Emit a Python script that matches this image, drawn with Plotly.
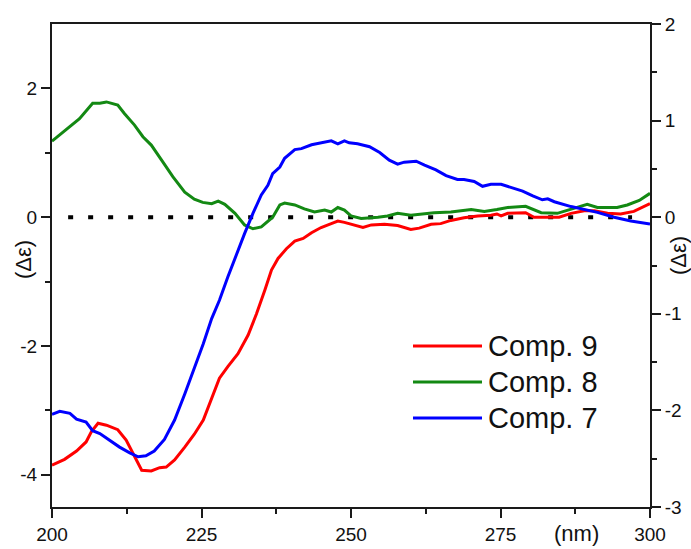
import plotly.graph_objects as go

# ---- data ----
wl_9 = [200.0, 202.1, 204.1, 205.7, 206.6, 207.7, 209.1, 211.0, 212.4, 213.8, 215.0, 216.6, 218.0, 219.1,
        220.5, 222.2, 223.8, 225.3, 226.7, 228.0, 229.4, 231.1, 232.8, 234.2, 235.6, 236.7, 237.8, 239.2,
        240.6, 242.0, 243.4, 245.0, 246.7, 247.8, 248.9, 249.7, 250.6, 252.0, 253.4, 255.6, 257.8, 260.0,
        261.4, 263.4, 265.0, 266.7, 268.9, 271.2, 273.4, 274.4, 275.1, 276.2, 279.2, 280.6, 283.4, 284.8,
        286.8, 289.0, 290.7, 292.9, 295.1, 297.3, 300.0]
de_9 = [-3.85, -3.76, -3.63, -3.49, -3.33, -3.20, -3.23, -3.30, -3.46, -3.72, -3.93, -3.94, -3.89, -3.88,
        -3.77, -3.57, -3.37, -3.15, -2.82, -2.50, -2.32, -2.12, -1.83, -1.50, -1.13, -0.82, -0.64, -0.49,
        -0.37, -0.33, -0.24, -0.16, -0.10, -0.06, -0.08, -0.10, -0.12, -0.16, -0.12, -0.11, -0.13, -0.19,
        -0.17, -0.11, -0.10, -0.05, -0.01, 0.02, 0.03, 0.05, 0.02, 0.06, 0.07, 0.00, 0.00, 0.00,
        0.06, 0.10, 0.10, 0.06, 0.05, 0.09, 0.21]

wl_8 = [200.0, 204.6, 206.8, 208.0, 209.1, 211.0, 212.1, 213.8, 215.2, 216.6, 218.3, 220.2, 222.2, 223.8,
        225.2, 226.7, 227.8, 228.9, 230.6, 232.2, 233.6, 235.0, 236.9, 238.1, 238.9, 240.6, 242.2, 243.9,
        245.6, 246.7, 247.8, 248.9, 250.0, 251.7, 254.5, 256.1, 257.8, 260.0, 263.9, 266.7, 270.1, 272.3,
        274.4, 276.2, 279.2, 281.8, 284.5, 286.8, 289.5, 291.2, 294.5, 296.2, 298.2, 300.0]
de_8 = [1.18, 1.53, 1.77, 1.77, 1.79, 1.74, 1.61, 1.43, 1.25, 1.12, 0.89, 0.63, 0.39, 0.28,
        0.23, 0.21, 0.25, 0.20, 0.06, -0.12, -0.18, -0.15, 0.00, 0.19, 0.22, 0.19, 0.13, 0.08,
        0.11, 0.08, 0.15, 0.11, 0.02, -0.02, 0.00, 0.02, 0.06, 0.03, 0.07, 0.08, 0.12, 0.09,
        0.12, 0.15, 0.17, 0.07, 0.06, 0.13, 0.20, 0.15, 0.15, 0.19, 0.26, 0.37]

# Comp. 7 is read against the right-hand axis
wl_7 = [200.0, 201.3, 203.0, 204.1, 205.7, 206.8, 208.0, 209.6, 211.3, 213.0, 214.4, 215.7, 217.1, 218.8,
        220.5, 222.2, 223.8, 225.3, 226.7, 228.0, 229.4, 230.8, 232.2, 233.6, 235.0, 236.1, 236.9, 238.1,
        238.9, 240.6, 241.7, 243.4, 245.0, 246.7, 247.8, 248.9, 249.7, 251.1, 253.1, 254.8, 256.4, 257.8,
        258.9, 260.9, 262.3, 264.2, 265.9, 267.8, 268.9, 270.6, 272.0, 273.4, 275.1, 277.0, 278.7, 280.4,
        282.0, 282.9, 284.0, 286.8, 289.0, 291.2, 294.0, 296.8, 300.0]
de_7 = [-2.04, -2.01, -2.03, -2.09, -2.12, -2.21, -2.24, -2.31, -2.38, -2.44, -2.48, -2.47, -2.42, -2.30,
        -2.10, -1.83, -1.56, -1.31, -1.05, -0.86, -0.62, -0.39, -0.17, 0.04, 0.23, 0.33, 0.45, 0.52,
        0.61, 0.70, 0.71, 0.75, 0.77, 0.79, 0.76, 0.79, 0.77, 0.76, 0.73, 0.67, 0.59, 0.55,
        0.57, 0.58, 0.54, 0.49, 0.43, 0.39, 0.39, 0.37, 0.32, 0.34, 0.34, 0.30, 0.27, 0.22,
        0.18, 0.19, 0.16, 0.11, 0.08, 0.05, 0.00, -0.04, -0.07]

zero_x = [202.7, 297.0]
zero_y = [0, 0]

series_names = ["Comp. 9", "Comp. 8", "Comp. 7"]
series_colors = ["#ff0000", "#138913", "#0000ff"]

x_ticks = [200, 225, 250, 275, 300]
x_ticklabels = ["200", "225", "250", "275", "300"]
yl_ticks = [-4, -2, 0, 2]
yl_ticklabels = ["-4", "-2", "0", "2"]
yr_ticks = [-3, -2, -1, 0, 1, 2]
yr_ticklabels = ["-3", "-2", "-1", "0", "1", "2"]

FONT = "Liberation Sans, Arial, sans-serif"
AXC = "#1a1a1a"
TXT = "#111111"

fig = go.Figure()
fig.add_trace(go.Scatter(x=zero_x, y=zero_y, mode="lines",
                         line=dict(color="black", width=4, dash="5px,15px"),
                         showlegend=False, hoverinfo="skip"))
fig.add_trace(go.Scatter(x=wl_9, y=de_9, mode="lines", name=series_names[0],
                         line=dict(color=series_colors[0], width=3)))
fig.add_trace(go.Scatter(x=wl_8, y=de_8, mode="lines", name=series_names[1],
                         line=dict(color=series_colors[1], width=3)))
fig.add_trace(go.Scatter(x=wl_7, y=de_7, mode="lines", name=series_names[2], yaxis="y2",
                         line=dict(color=series_colors[2], width=3)))

fig.update_layout(
    width=691, height=549,
    margin=dict(l=52, r=41, t=24, b=42, autoexpand=False),
    paper_bgcolor="white", plot_bgcolor="white",
    showlegend=False,
    font=dict(family=FONT, size=19, color=TXT),
    xaxis=dict(range=[200, 300], tickvals=x_ticks, ticktext=x_ticklabels, automargin=False,
               ticks="outside", ticklen=9, tickwidth=2, tickcolor=AXC,
               showline=True, linewidth=2, linecolor=AXC, mirror=True,
               showgrid=False, zeroline=False,
               minor=dict(ticks="outside", ticklen=5, tickwidth=2, tickcolor=AXC,
                          tick0=200, dtick=12.5, showgrid=False)),
    yaxis=dict(range=[-4.5, 3], tickvals=yl_ticks, ticktext=yl_ticklabels, automargin=False,
               ticks="outside", ticklen=9, tickwidth=2, tickcolor=AXC,
               showline=True, linewidth=2, linecolor=AXC,
               showgrid=False, zeroline=False,
               minor=dict(ticks="outside", ticklen=5, tickwidth=2, tickcolor=AXC,
                          tickvals=[-3, -1, 1], showgrid=False)),
    yaxis2=dict(range=[-3, 2], tickvals=yr_ticks, ticktext=yr_ticklabels, automargin=False,
                overlaying="y", side="right",
                ticks="outside", ticklen=9, tickwidth=2, tickcolor=AXC,
                showline=True, linewidth=2, linecolor=AXC,
                showgrid=False, zeroline=False,
                minor=dict(ticks="outside", ticklen=5, tickwidth=2, tickcolor=AXC,
                           tickvals=[-2.5, -1.5, -0.5, 0.5, 1.5], showgrid=False)),
)

# axis titles
fig.add_annotation(text="(Δε)", xref="paper", yref="paper", x=(23 - 52) / 598, y=(507 - 260) / 483,
                   xanchor="center", yanchor="middle",
                   textangle=-90, showarrow=False, font=dict(size=22, family=FONT, color=TXT))
fig.add_annotation(text="(Δε)", xref="paper", yref="paper", x=(678 - 52) / 598, y=(507 - 256) / 483,
                   xanchor="center", yanchor="middle",
                   textangle=-90, showarrow=False, font=dict(size=22, family=FONT, color=TXT))
fig.add_annotation(text="(nm)", xref="paper", yref="paper", x=(576 - 52) / 598, y=-(533 - 507) / 483,
                   xanchor="center", yanchor="middle",
                   showarrow=False, font=dict(size=22, family=FONT, color=TXT))

# manual legend (long line samples)
leg_y = [346, 382, 418]
for name, color, py in zip(series_names, series_colors, leg_y):
    yp = (507 - py) / 483
    fig.add_shape(type="line", xref="paper", yref="paper",
                  x0=(413 - 52) / 598, x1=(482 - 52) / 598, y0=yp, y1=yp,
                  line=dict(color=color, width=3))
    fig.add_annotation(text=name, xref="paper", yref="paper", x=(486 - 52) / 598, y=yp,
                       xanchor="left", yanchor="middle", showarrow=False,
                       font=dict(size=29, family=FONT, color=TXT))

fig.write_html("out.html")
